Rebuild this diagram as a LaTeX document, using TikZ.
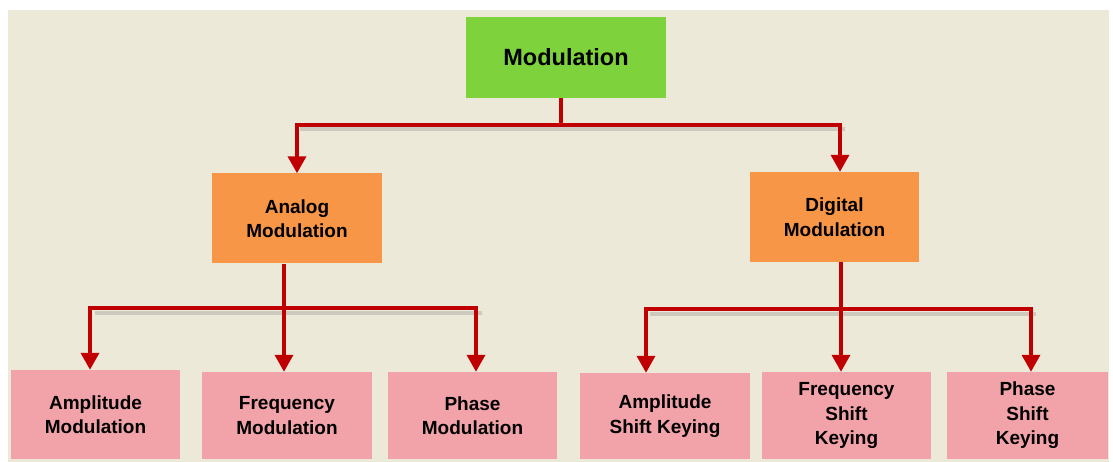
\documentclass[tikz,border=0pt]{standalone}
\usepackage{fontspec}
\setmainfont{Liberation Sans}
\usetikzlibrary{calc}
\usetikzlibrary{arrows.meta, positioning}

\definecolor{bgbeige}{HTML}{EDE9D9}
\definecolor{topgreen}{HTML}{7ED33C}
\definecolor{midorange}{HTML}{F79646}
\definecolor{leafpink}{HTML}{F2A3A9}
\definecolor{linkred}{HTML}{C00000}

\begin{document}
\begin{tikzpicture}[x=1pt, y=-1pt,
    box/.style={draw=none, align=center, inner sep=0pt,
        font=\bfseries\fontsize{19}{24.5}\selectfont},
    topbox/.style={box, fill=topgreen, minimum width=200pt, minimum height=81pt,
        font=\bfseries\fontsize{23.5}{28}\selectfont},
    midbox/.style={box, fill=midorange, minimum width=170pt, minimum height=90pt},
    leafbox/.style={box, fill=leafpink, minimum width=169pt, minimum height=87pt},
    trunk/.style={draw=linkred, line width=3.5pt},
    link/.style={trunk, -{Triangle[width=18pt,length=17pt]}},
    lineshadow/.style={draw=black!50, line width=4pt, opacity=0.3}
]

% Background
\useasboundingbox (0,0) rectangle (1113,462);
\fill[bgbeige] (8,10) rectangle (1109,462);

% Top box
\node[topbox] (mod) at (566,57.5) {Modulation};

% Second level (orange)
\node[midbox] (analog) at (297,218.5) {Analog\\Modulation};
\node[midbox, minimum width=169pt] (digital) at (834.5,217) {Digital\\Modulation};

% Analog leaves (pink)
\node[leafbox, minimum height=89pt] (am) at (95.5,414.5) {Amplitude\\Modulation};
\node[leafbox, minimum width=170pt] (fm) at (287,415.5) {Frequency\\Modulation};
\node[leafbox] (pm) at (472.5,415.5) {Phase\\Modulation};

% Digital leaves (pink)
\node[leafbox, minimum width=170pt, minimum height=86pt] (ask) at (665,416) {Amplitude\\Shift Keying};
\node[leafbox] (fsk) at (846.5,415.5) {Frequency\\Shift\\Keying};
\node[leafbox, minimum width=161pt] (psk) at (1027.5,415.5) {Phase\\Shift\\Keying};

% Branch points
\coordinate (jtop) at (561,125);
\coordinate (ja) at (284,308);
\coordinate (jd) at (841,309);

% Soft shadows under the horizontal bars
\foreach \xl/\xr/\yy in {300/845/129.5, 95/482/312.5, 650/1036/313.5}
{
    \draw[lineshadow] (\xl,\yy) -- (\xr,\yy);
}

% Modulation -> Analog / Digital
\draw[trunk] (mod.south -| jtop) -- (jtop);
\draw[link] (jtop) -| (analog.north);
\draw[link] (jtop) -| ([xshift=5.5pt]digital.north);

% Analog -> AM, FM, PM
\draw[trunk] (analog.south -| ja) -- (ja);
\draw[link] (ja) -| ([xshift=-5.5pt]am.north);
\draw[link] (ja) -- (ja |- fm.north);
\draw[link] (ja) -| ([xshift=3.5pt]pm.north);

% Digital -> ASK, FSK, PSK
\draw[trunk] (digital.south -| jd) -- (jd);
\draw[link] (jd) -| ([xshift=-19pt]ask.north);
\draw[link] (jd) -- (jd |- fsk.north);
\draw[link] (jd) -| ([xshift=3.5pt]psk.north);

\end{tikzpicture}
\end{document}
